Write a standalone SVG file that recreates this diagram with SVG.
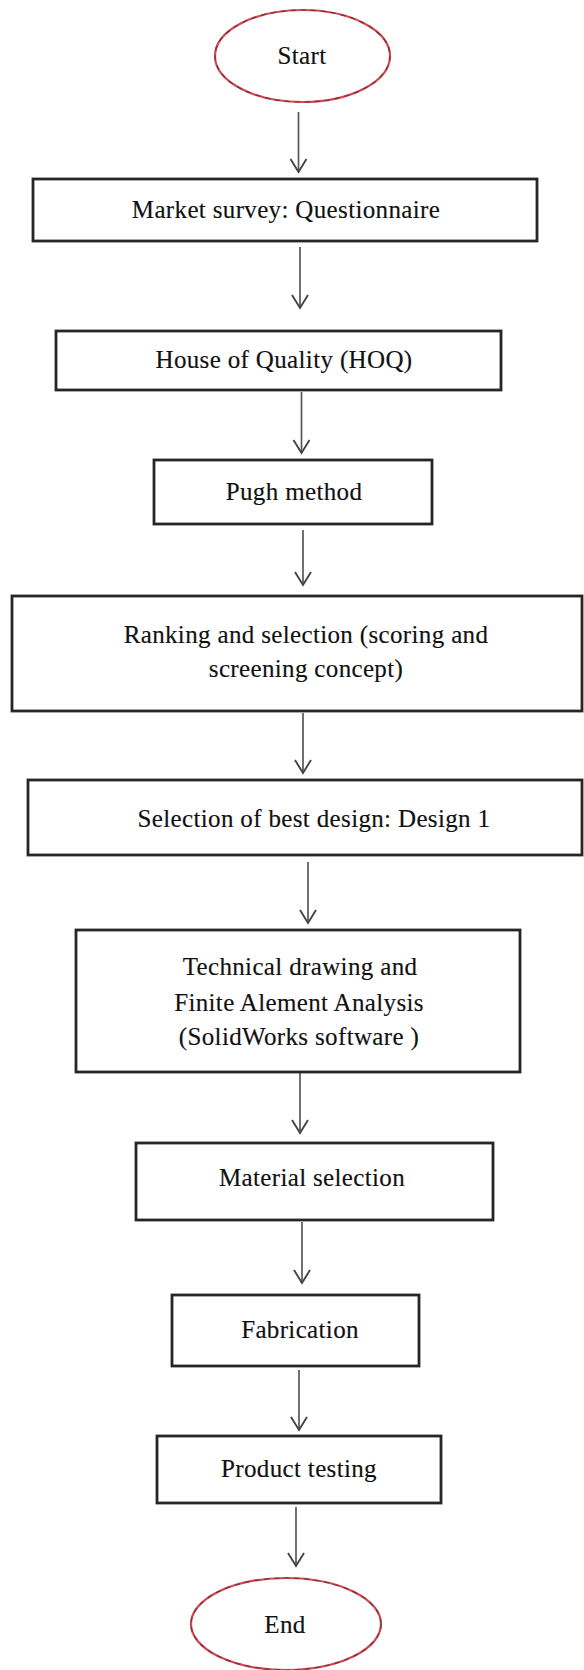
<svg xmlns="http://www.w3.org/2000/svg" width="584" height="1670" viewBox="0 0 584 1670">
  <style>
    .box { fill: #ffffff; stroke: #262626; stroke-width: 2.8; }
    .term { fill: #ffffff; stroke: #d9434f; stroke-width: 2.2; }
    .term-dash { fill: none; stroke: #3a3a3a; stroke-width: 1.2; stroke-dasharray: 5 5; opacity: 0.75; }
    .label { font-family: "Liberation Serif", "Times New Roman", serif; font-size: 25px; letter-spacing: 0.35px; fill: #111111; stroke: #111111; stroke-width: 0.15; text-anchor: middle; }
    .flow { stroke: #585858; stroke-width: 1.7; fill: none; marker-end: url(#arrow); }
  </style>
  <defs>
    <marker id="arrow" markerUnits="userSpaceOnUse" viewBox="-15 -10 17 20" markerWidth="17" markerHeight="20" refX="0" refY="0" orient="auto">
      <path d="M-13,-8 L0,0 L-13,8" fill="none" stroke="#444444" stroke-width="1.9" stroke-linejoin="miter"/>
    </marker>
  </defs>

  <rect x="0" y="0" width="584" height="1670" fill="#ffffff"/>

  <!-- connectors -->
  <g id="connectors">
    <line class="flow" x1="298.5" y1="112" x2="298.5" y2="172"/>
    <line class="flow" x1="300" y1="247" x2="300" y2="308"/>
    <line class="flow" x1="301.5" y1="392" x2="301.5" y2="453"/>
    <line class="flow" x1="303" y1="530" x2="303" y2="585"/>
    <line class="flow" x1="303" y1="713" x2="303" y2="773"/>
    <line class="flow" x1="308" y1="862" x2="308" y2="923"/>
    <line class="flow" x1="300" y1="1073" x2="300" y2="1133"/>
    <line class="flow" x1="302" y1="1222" x2="302" y2="1283"/>
    <line class="flow" x1="299" y1="1370" x2="299" y2="1430"/>
    <line class="flow" x1="296" y1="1507" x2="296" y2="1566"/>
  </g>

  <g id="start">
    <ellipse class="term" cx="302.5" cy="56" rx="87.5" ry="46"/>
    <ellipse class="term-dash" cx="302.5" cy="56" rx="87.5" ry="46"/>
    <text class="label" x="302" y="64">Start</text>
  </g>

  <g id="market-survey">
    <rect class="box" x="33" y="179" width="504" height="62"/>
    <text class="label" x="286" y="218">Market survey: Questionnaire</text>
  </g>

  <g id="house-of-quality">
    <rect class="box" x="56" y="331" width="445" height="59"/>
    <text class="label" x="284" y="368">House of Quality (HOQ)</text>
  </g>

  <g id="pugh-method">
    <rect class="box" x="154" y="460" width="278" height="64"/>
    <text class="label" x="294" y="500">Pugh method</text>
  </g>

  <g id="ranking-selection">
    <rect class="box" x="12" y="596" width="570" height="115"/>
    <text class="label" x="306" y="643">Ranking and selection (scoring and</text>
    <text class="label" x="306" y="677">screening concept)</text>
  </g>

  <g id="best-design">
    <rect class="box" x="28" y="780" width="554" height="75"/>
    <text class="label" x="314" y="827">Selection of best design: Design 1</text>
  </g>

  <g id="technical-drawing">
    <rect class="box" x="76" y="930" width="444" height="142"/>
    <text class="label" x="300" y="975">Technical drawing and</text>
    <text class="label" x="299" y="1011">Finite Alement Analysis</text>
    <text class="label" x="299" y="1045">(SolidWorks software )</text>
  </g>

  <g id="material-selection">
    <rect class="box" x="136" y="1143" width="357" height="77"/>
    <text class="label" x="312" y="1186">Material selection</text>
  </g>

  <g id="fabrication">
    <rect class="box" x="172" y="1295" width="247" height="71"/>
    <text class="label" x="300" y="1338">Fabrication</text>
  </g>

  <g id="product-testing">
    <rect class="box" x="157" y="1436" width="284" height="67"/>
    <text class="label" x="299" y="1477">Product testing</text>
  </g>

  <g id="end">
    <ellipse class="term" cx="286" cy="1624" rx="95" ry="46"/>
    <ellipse class="term-dash" cx="286" cy="1624" rx="95" ry="46"/>
    <text class="label" x="285" y="1633">End</text>
  </g>
</svg>
